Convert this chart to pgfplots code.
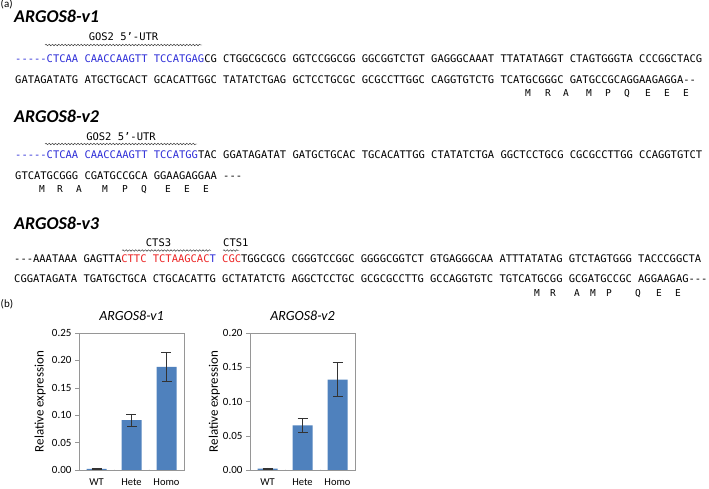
\documentclass[border=0pt]{standalone}
\usepackage{pgfplots}
\pgfplotsset{compat=1.18}
\usetikzlibrary{decorations.pathmorphing}
\usepackage{fontspec}
\setmainfont{Carlito}
\newfontfamily\seqfont[Ligatures=TeXOff]{DejaVu Sans Mono}
\definecolor{seqblue}{RGB}{45,45,215}
\definecolor{seqred}{RGB}{235,35,35}
\definecolor{barblue}{RGB}{79,129,189}
\definecolor{axgray}{RGB}{150,150,150}
\newcommand{\sq}{\fontsize{10.47}{12}\selectfont\seqfont}
\newcommand{\pf}{\fontsize{9.5}{10}\selectfont\seqfont}
\tikzset{wave/.style={black!80, line width=0.45pt, decorate, decoration={snake, amplitude=0.75pt, segment length=3.2pt}}}
\pgfplotsset{
  expr/.style={
    scale only axis, width=105pt, height=137pt,
    xmin=-0.5, xmax=2.5, ymin=0,
    xtick={0,1,2}, xticklabels={WT,Hete,Homo},
    xtick style={draw=none},
    ytick pos=left, tick align=outside, major tick length=4pt,
    ytick style={draw=axgray},
    axis line style={draw=axgray},
    /pgf/number format/assume math mode=true,
    yticklabel style={/pgf/number format/fixed, /pgf/number format/fixed zerofill, /pgf/number format/precision=2, font=\fontsize{11}{12}\selectfont},
    xticklabel style={font=\fontsize{10.5}{11}\selectfont, yshift=-1.5pt},
    ylabel={Relative expression},
    title style={font=\fontsize{14}{16}\selectfont\itshape, at={(axis description cs:0.5,1)}, anchor=base, yshift=6pt},
  },
  barstyle/.style={ybar, bar width=20pt, fill=barblue, draw=none,
    error bars/.cd, y dir=both, y explicit,
    error bar style={black!80, line width=0.6pt},
    error mark options={rotate=90, black!80, line width=0.6pt, mark size=5pt}},
}
\begin{document}
\begin{tikzpicture}
\path[use as bounding box] (0,0) rectangle (709pt,489pt);
% (a)
\node[anchor=base west, inner sep=0, font=\fontsize{11}{12}\selectfont] at (0.5pt,481.5pt) {(a)};
% ---------- v1
\node[anchor=base west, inner sep=0, font=\fontsize{18}{20}\selectfont\bfseries\itshape] at (14pt,466pt) {ARGOS8-v1};
\node[anchor=base, inner sep=0, font=\sq] at (123.5pt,448.5pt) {GOS2 5’-UTR};
\draw[wave] (45pt,444pt) -- (202pt,444pt);
\node[anchor=base west, inner sep=0, font=\sq] at (15pt,426.2pt) {\textcolor{seqblue}{-----CTCAA CAACCAAGTT TCCATGAG}CG CTGGCGCGCG GGTCCGGCGG GGCGGTCTGT GAGGGCAAAT TTATATAGGT CTAGTGGGTA CCCGGCTACG};
\node[anchor=base west, inner sep=0, font=\sq] at (15pt,405.2pt) {GATAGATATG ATGCTGCACT GCACATTGGC TATATCTGAG GCTCCTGCGC GCGCCTTGGC CAGGTGTCTG TCATGCGGGC GATGCCGCAGGAAGAGGA--};
\foreach \x/\l in {528/M,548/R,566/A,589/M,608/P,627/Q,648/E,667/E,686/E}
  \node[anchor=base, inner sep=0, font=\pf] at (\x pt,392pt) {\l};
% ---------- v2
\node[anchor=base west, inner sep=0, font=\fontsize{18}{20}\selectfont\bfseries\itshape] at (14pt,366.5pt) {ARGOS8-v2};
\node[anchor=base, inner sep=0, font=\sq] at (121pt,348.5pt) {GOS2 5’-UTR};
\draw[wave] (45pt,345pt) -- (197pt,345pt);
\node[anchor=base west, inner sep=0, font=\sq] at (15pt,330.2pt) {\textcolor{seqblue}{-----CTCAA CAACCAAGTT TCCATGG}TAC GGATAGATAT GATGCTGCAC TGCACATTGG CTATATCTGA GGCTCCTGCG CGCGCCTTGG CCAGGTGTCT};
\node[anchor=base west, inner sep=0, font=\sq] at (15pt,309.2pt) {GTCATGCGGG CGATGCCGCA GGAAGAGGAA ---};
\foreach \x/\l in {42/M,60/R,79/A,105/M,125/P,144/Q,168/E,187/E,206/E}
  \node[anchor=base, inner sep=0, font=\pf] at (\x pt,296.7pt) {\l};
% ---------- v3
\node[anchor=base west, inner sep=0, font=\fontsize{18}{20}\selectfont\bfseries\itshape] at (14pt,259pt) {ARGOS8-v3};
\node[anchor=base, inner sep=0, font=\sq] at (158.5pt,242pt) {CTS3};
\node[anchor=base west, inner sep=0, font=\sq] at (223pt,242pt) {CTS1};
\draw[wave] (122pt,238.5pt) -- (211pt,238.5pt);
\draw[wave] (223pt,238.5pt) -- (239pt,238.5pt);
\node[anchor=base west, inner sep=0, font=\sq] at (14pt,226.7pt) {---AAATAAA GAGTTA\textcolor{seqred}{CTTC TCTAAGCAC}\textcolor{seqblue}{T} \textcolor{seqred}{CGC}TGGCGCG CGGGTCCGGC GGGGCGGTCT GTGAGGGCAA ATTTATATAG GTCTAGTGGG TACCCGGCTA};
\node[anchor=base west, inner sep=0, font=\sq] at (14pt,206.2pt) {CGGATAGATA TGATGCTGCA CTGCACATTG GCTATATCTG AGGCTCCTGC GCGCGCCTTG GCCAGGTGTC TGTCATGCGG GCGATGCCGC AGGAAGAG---};
\foreach \x/\l in {537/M,553/R,577/A,593/M,609/P,638/Q,659/E,678/E}
  \node[anchor=base, inner sep=0, font=\pf] at (\x pt,192.7pt) {\l};
% (b)
\node[anchor=base west, inner sep=0, font=\fontsize{11}{12}\selectfont] at (0.5pt,181.5pt) {(b)};
% ---------- chart 1
\begin{axis}[expr, at={(79pt,19pt)}, anchor=south west,
  ymax=0.25, ytick={0,0.05,0.10,0.15,0.20,0.25},
  title={ARGOS8-v1},
  ylabel style={font=\fontsize{13}{15}\selectfont, at={(axis description cs:-0.37,0.5)}, anchor=center}]
\addplot[barstyle] coordinates {(0,0.002) +- (0,0.001) (1,0.091) +- (0,0.0115) (2,0.188) +- (0,0.027)};
\draw[axgray] (axis cs:0.5,0) -- ++(0,-4pt);
\draw[axgray] (axis cs:1.5,0) -- ++(0,-4pt);
\end{axis}
% ---------- chart 2
\begin{axis}[expr, at={(250pt,19pt)}, anchor=south west,
  ymax=0.20, ytick={0,0.05,0.10,0.15,0.20},
  title={ARGOS8-v2},
  ylabel style={font=\fontsize{13}{15}\selectfont, at={(axis description cs:-0.34,0.5)}, anchor=center}]
\addplot[barstyle] coordinates {(0,0.002) +- (0,0.001) (1,0.065) +- (0,0.010) (2,0.132) +- (0,0.025)};
\draw[axgray] (axis cs:0.5,0) -- ++(0,-4pt);
\draw[axgray] (axis cs:1.5,0) -- ++(0,-4pt);
\end{axis}
\end{tikzpicture}
\end{document}
